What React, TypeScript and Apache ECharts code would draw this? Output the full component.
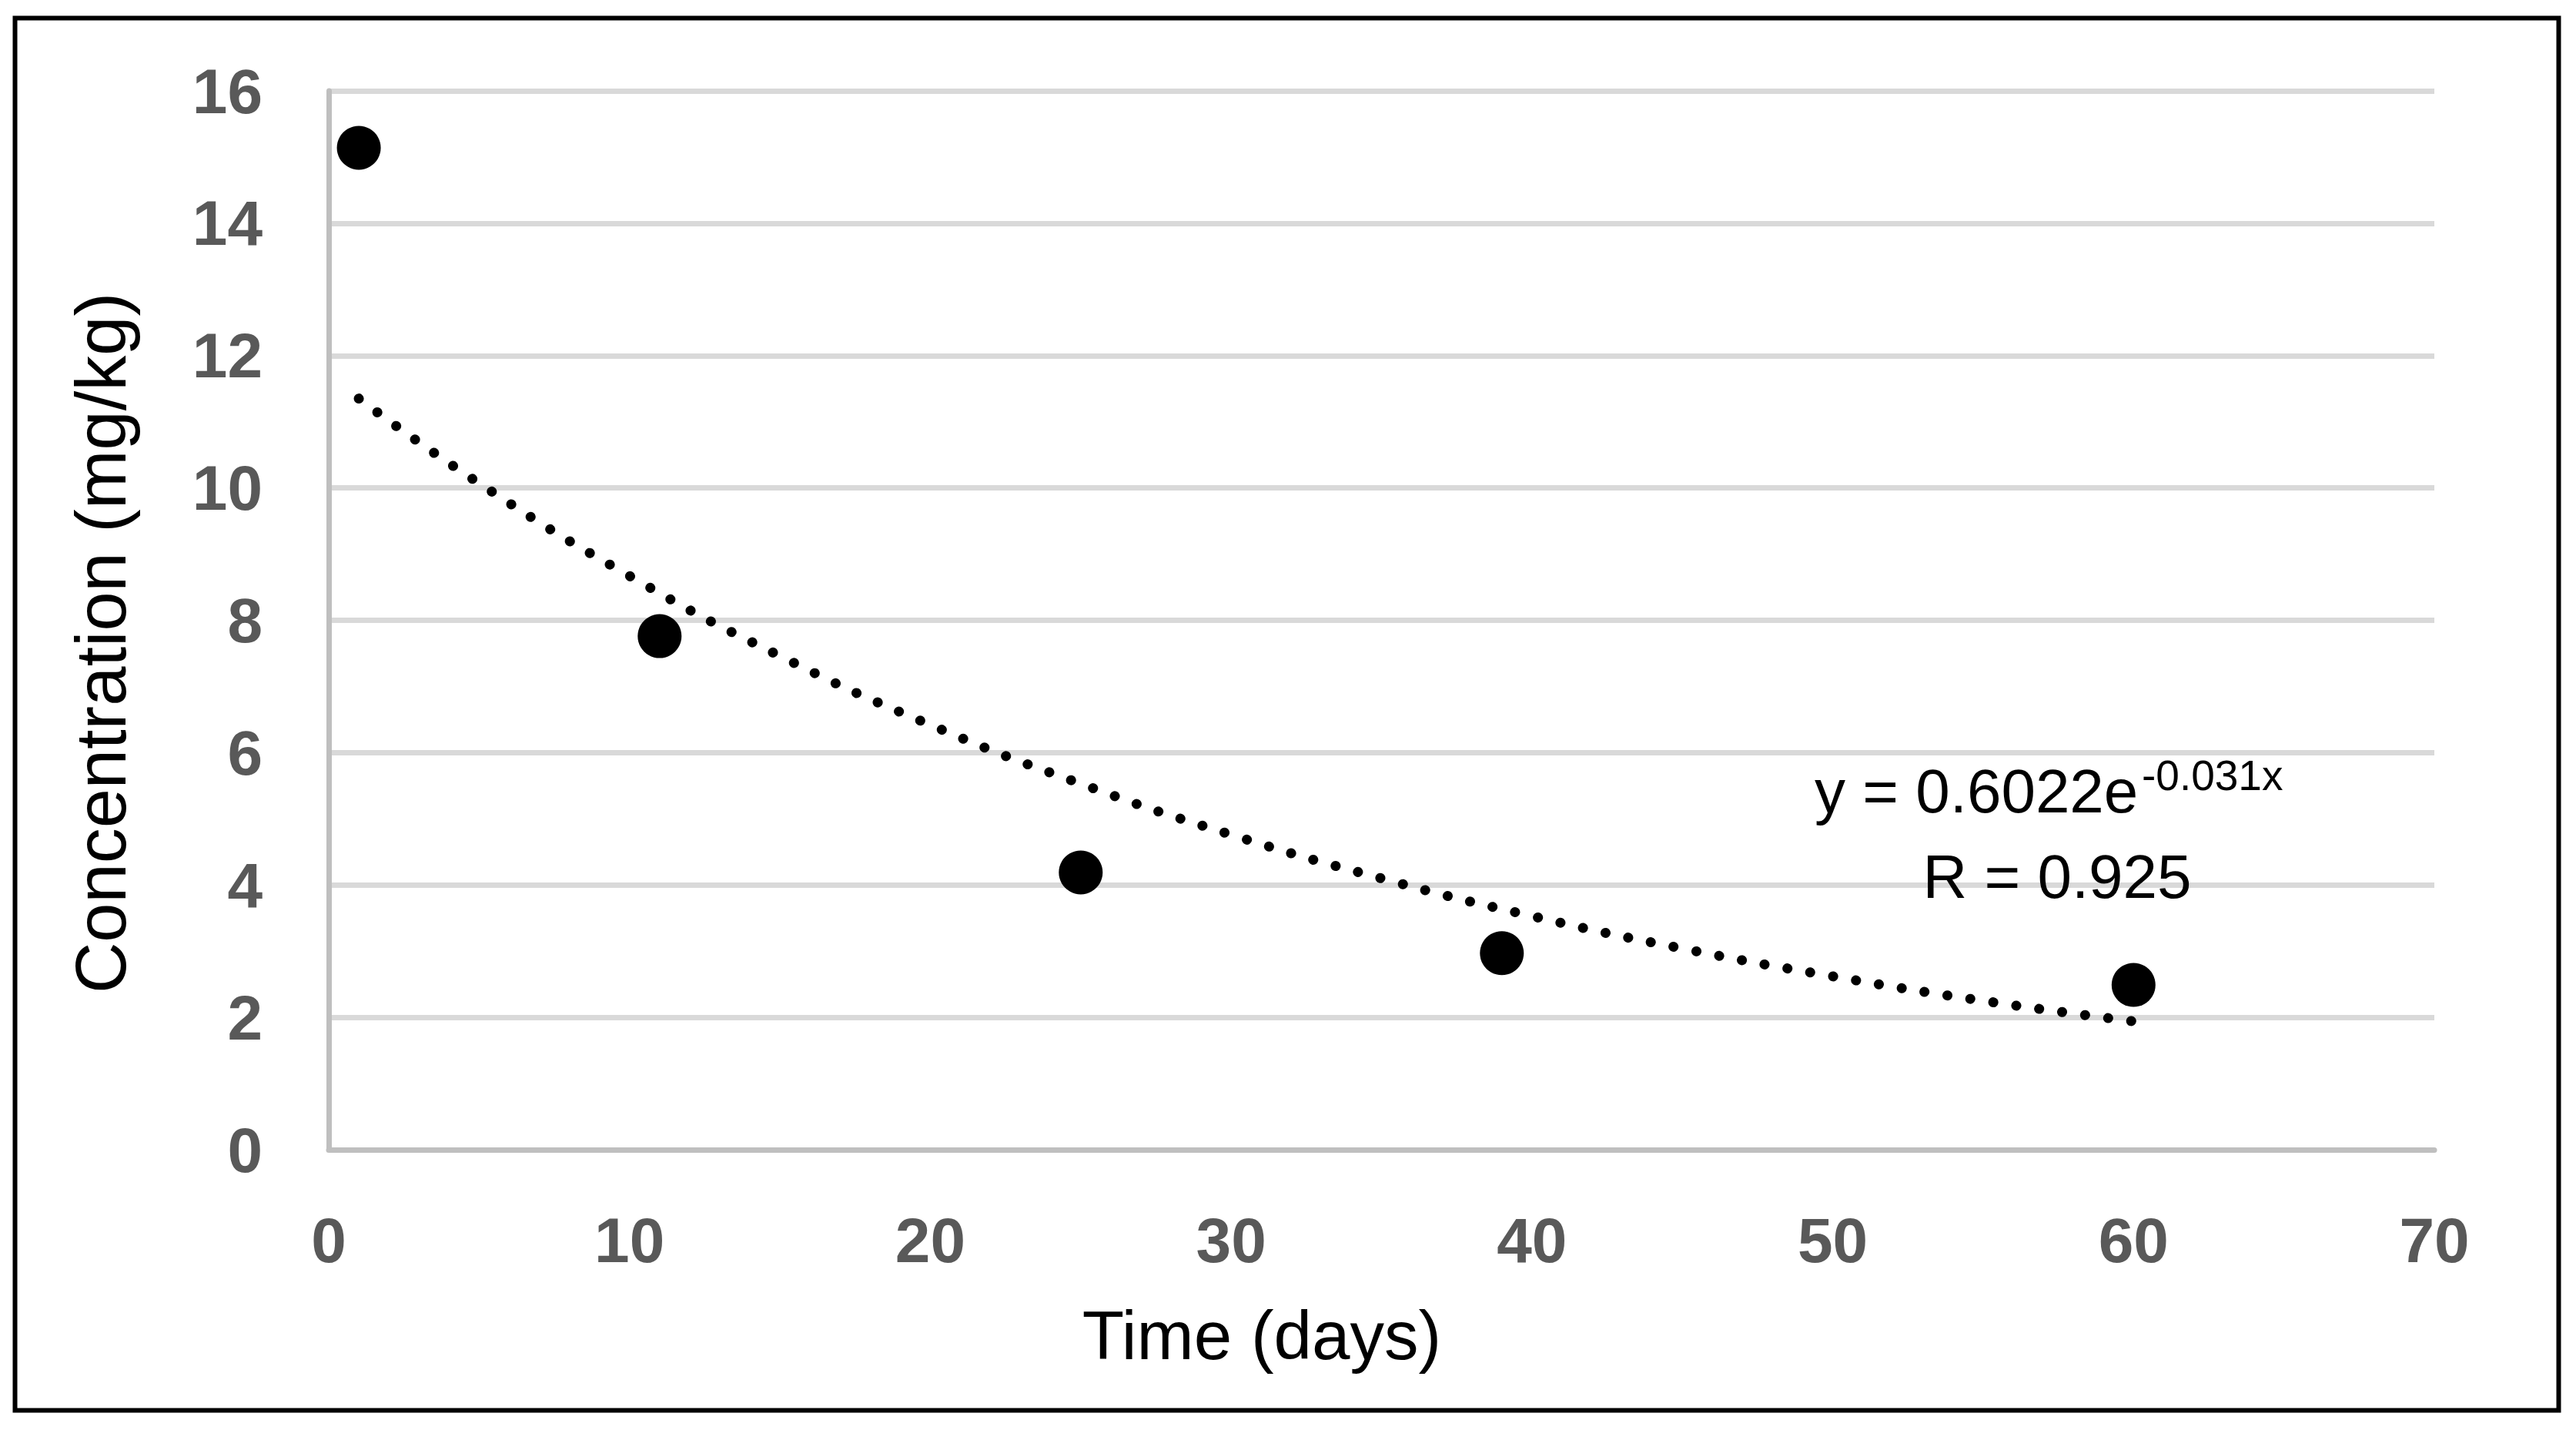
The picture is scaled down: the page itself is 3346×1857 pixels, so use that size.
import React, { useEffect, useRef } from "react";
import * as echarts from "echarts";

// Measured data points (days, mg/kg)
const dayValues = [1, 11, 25, 39, 60];
const concentrationValues = [15.14, 7.76, 4.19, 2.97, 2.49];

// Dotted trend line
const trendDays = [1, 5, 10, 15, 20, 25, 30, 35, 40, 45, 50, 55, 60];
const trendValues = [11.35, 10.07, 8.67, 7.46, 6.42, 5.53, 4.76, 4.1, 3.53, 3.04, 2.62, 2.25, 1.94];

// Axis ranges / ticks
const xMin = 0;
const xMax = 70;
const xStep = 10;
const yMin = 0;
const yMax = 16;
const yStep = 2;

// Texts
const xTitle = "Time (days)";
const yTitle = "Concentration (mg/kg)";
const equationMain = "y = 0.6022e";
const equationExp = "-0.031x";
const rText = "R = 0.925";

const FONT = "'Liberation Sans', Arial, sans-serif";

export default function App() {
  const ref = useRef<HTMLDivElement>(null);

  useEffect(() => {
    document.body.style.margin = "0";
    if (!ref.current) return;
    const chart = echarts.init(ref.current, undefined, { renderer: "svg" });

    const scatterData = dayValues.map((d, i) => [d, concentrationValues[i]]);
    const trendData = trendDays.map((d, i) => [d, trendValues[i]]);

    chart.setOption({
      animation: false,
      backgroundColor: "#ffffff",
      grid: { left: 427, right: 184, top: 118, bottom: 364, containLabel: false },
      xAxis: {
        type: "value",
        min: xMin,
        max: xMax,
        interval: xStep,
        axisLine: { show: true, lineStyle: { color: "#BFBFBF", width: 7 } },
        axisTick: { show: false },
        splitLine: { show: false },
        axisLabel: {
          color: "#595959",
          fontFamily: FONT,
          fontWeight: "bold",
          fontSize: 82,
          margin: 117,
          verticalAlign: "middle",
        },
      },
      yAxis: {
        type: "value",
        min: yMin,
        max: yMax,
        interval: yStep,
        axisLine: { show: true, lineStyle: { color: "#BFBFBF", width: 7 } },
        axisTick: { show: false },
        splitLine: { show: true, lineStyle: { color: "#D9D9D9", width: 7 } },
        axisLabel: {
          color: "#595959",
          fontFamily: FONT,
          fontWeight: "bold",
          fontSize: 82,
          margin: 86,
          align: "right",
        },
      },
      series: [
        {
          type: "line",
          data: trendData,
          smooth: true,
          showSymbol: false,
          symbol: "none",
          lineStyle: { color: "#000000", width: 13, type: [0.1, 30], cap: "round", opacity: 1 },
          z: 2,
        },
        {
          type: "scatter",
          data: scatterData,
          symbol: "circle",
          symbolSize: 57,
          itemStyle: { color: "#000000", opacity: 1 },
          z: 3,
        },
      ],
      graphic: [
        {
          type: "rect",
          shape: { x: 19.5, y: 23.5, width: 3304, height: 1808 },
          style: { fill: "none", stroke: "#000000", lineWidth: 6 },
          z: 100,
        },
        {
          type: "text",
          x: 1639,
          y: 1734,
          z: 100,
          style: {
            text: xTitle,
            fontFamily: FONT,
            fontSize: 89,
            fill: "#000000",
            align: "center",
            verticalAlign: "middle",
          },
        },
        {
          type: "text",
          x: 131,
          y: 835,
          z: 100,
          rotation: Math.PI / 2,
          style: {
            text: yTitle,
            fontFamily: FONT,
            fontSize: 92,
            fill: "#000000",
            align: "center",
            verticalAlign: "middle",
          },
        },
        {
          type: "text",
          x: 2357,
          y: 1027,
          z: 100,
          style: {
            text: equationMain,
            fontFamily: FONT,
            fontSize: 80,
            fill: "#000000",
            align: "left",
            verticalAlign: "middle",
          },
        },
        {
          type: "text",
          x: 2782,
          y: 1007,
          z: 100,
          style: {
            text: equationExp,
            fontFamily: FONT,
            fontSize: 55,
            fill: "#000000",
            align: "left",
            verticalAlign: "middle",
          },
        },
        {
          type: "text",
          x: 2672,
          y: 1138,
          z: 100,
          style: {
            text: rText,
            fontFamily: FONT,
            fontSize: 80,
            fill: "#000000",
            align: "center",
            verticalAlign: "middle",
          },
        },
      ],
    });

    return () => {
      chart.dispose();
    };
  }, []);

  return <div ref={ref} style={{ width: "100vw", height: "100vh" }} />;
}
